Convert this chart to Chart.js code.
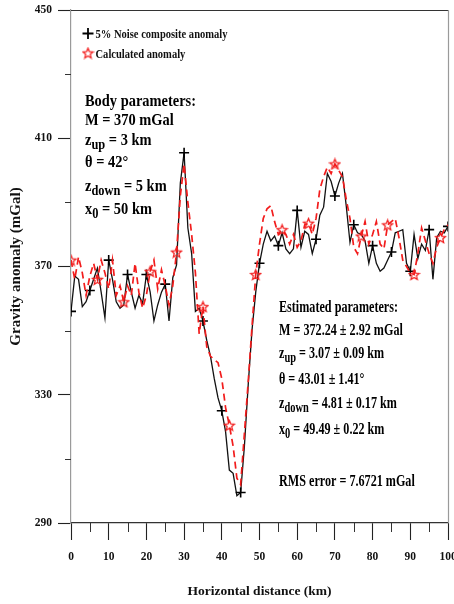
<!DOCTYPE html>
<html>
<head>
<meta charset="utf-8">
<title>Gravity anomaly profile</title>
<style>
  html, body { margin: 0; padding: 0; background: #fff; }
  #plot { display: block; }
</style>
<script src="https://cdn.jsdelivr.net/npm/chart.js@4.4.0/dist/chart.umd.min.js"></script>
</head>
<body>
<canvas id="plot" width="454" height="604"></canvas>
<script>
// Profile sampled every 1 km along the horizontal distance axis
const distanceKm = [0,1,2,3,4,5,6,7,8,9,10,11,12,13,14,15,16,17,18,19,20,21,22,23,24,25,26,27,28,29,30,31,32,33,34,35,36,37,38,39,40,41,42,43,44,45,46,47,48,49,50,51,52,53,54,55,56,57,58,59,60,61,62,63,64,65,66,67,68,69,70,71,72,73,74,75,76,77,78,79,80,81,82,83,84,85,86,87,88,89,90,91,92,93,94,95,96,97,98,99,100];

// 5% noise composite anomaly (mGal)
const noisyAnomaly = [356,367,366,357.5,359,362.5,366,369.5,362,354,372,366,359,357,358,367.5,362,357,361,358.5,367.5,362,353,358,362,364.5,353,366.5,370.5,396,405.5,382,374,356,357,353,347,342,335,329,325,318.5,306.5,305.5,298.5,299.5,314,333,350,362,371,377,381,378,379.5,376.5,380.5,375.5,374,375.5,387.5,376,381,380,374,378.5,386,388.5,399,396.5,392,396,399,389,377.5,383,380.5,380,378,371,376.5,371,368.5,369.5,372,374.5,380.5,381,381.5,371,368.5,380,372.5,377,375,381.5,366,379,381,380.5,382.5];

// Calculated anomaly from the estimated parameters (mGal)
const calculatedAnomaly = [372,366,373,368,361,367,371,366,372,368,363,372,361,364,359,364,361,371,362,357,361,368.5,372,363,369,364,358,364,374.5,392,402,390,380,368,349,357.5,345,342,341,340,335,326,320.5,314,304,302,318,334,351,367.5,377,385,388,389,384,380,381.5,380,377,380,376,378,383,383.5,380,385,394,398,401,399,402,400,398,391,385,376,374,379.5,384,377,380,384,377,375.5,383,384,385,379,372,370,368,367.5,374,382,378,374,371,376,379,381.5,383];

const xTickLabels = [0,10,20,30,40,50,60,70,80,90,100];
const xMinorTicks = [5,15,25,35,45,55,65,75,85,95];
const yTickLabels = [290,330,370,410,450];
const yMinorTicks = [310,350,390,430];

const legendLabels = ['5% Noise composite anomaly', 'Calculated anomaly'];

// Text blocks: each line is a list of [text, isSubscript]
const bodyLines = [
  [['Body parameters:', 0]],
  [['M = 370 mGal', 0]],
  [['z', 0], ['up', 1], [' = 3 km', 0]],
  [['\u03B8 = 42\u00B0', 0]],
  [['z', 0], ['down', 1], [' = 5 km', 0]],
  [['x', 0], ['0', 1], [' = 50 km', 0]]
];
const estimatedLines = [
  [['Estimated parameters:', 0]],
  [['M = 372.24 \u00B1 2.92 mGal', 0]],
  [['z', 0], ['up', 1], [' = 3.07 \u00B1 0.09 km', 0]],
  [['\u03B8 = 43.01 \u00B1 1.41\u00B0', 0]],
  [['z', 0], ['down', 1], [' = 4.81 \u00B1 0.17 km', 0]],
  [['x', 0], ['0', 1], [' = 49.49 \u00B1 0.22 km', 0]],
  [['RMS error = 7.6721 mGal', 0]]
];

const SERIF = '"Liberation Serif", "Times New Roman", Times, serif';
const RED = '#f21c1c';

function makeStar(size, color) {
  const c = document.createElement('canvas');
  c.width = size; c.height = size;
  const g = c.getContext('2d');
  const cx = size / 2, cy = size / 2 + 0.6;
  const R = size / 2 - 1.1, r = R * 0.45;
  g.beginPath();
  for (let i = 0; i < 10; i++) {
    const a = -Math.PI / 2 + i * Math.PI / 5;
    const rad = i % 2 ? r : R;
    g.lineTo(cx + rad * Math.cos(a), cy + rad * Math.sin(a));
  }
  g.closePath();
  g.strokeStyle = color;
  g.lineWidth = 1.3;
  g.stroke();
  return c;
}
const starMarker = makeStar(13, RED);

const toPoints = ys => ys.map((y, i) => ({ x: distanceKm[i], y }));

function drawRich(ctx, x, y, parts, size, sx) {
  ctx.save();
  ctx.translate(x, y);
  ctx.scale(sx, 1);
  let cx = 0;
  for (const [t, sub] of parts) {
    const fs = sub ? size * 0.86 : size;
    ctx.font = 'bold ' + fs + 'px ' + SERIF;
    ctx.fillText(t, cx, sub ? size * 0.24 : 0);
    cx += ctx.measureText(t).width;
  }
  ctx.restore();
}

function fitScale(ctx, text, size, target) {
  ctx.font = 'bold ' + size + 'px ' + SERIF;
  return target / ctx.measureText(text).width;
}

const decorations = {
  id: 'decorations',
  afterDraw(chart) {
    const ctx = chart.ctx;
    const a = chart.chartArea;
    const xs = chart.scales.x, ys = chart.scales.y;
    ctx.save();

    // frame: dark top edge, grey right edge
    ctx.lineWidth = 1.2;
    ctx.strokeStyle = '#333';
    ctx.beginPath();
    ctx.moveTo(a.left, a.top + 0.5);
    ctx.lineTo(a.right, a.top + 0.5);
    ctx.stroke();
    ctx.strokeStyle = '#9a9a9a';
    ctx.beginPath();
    ctx.moveTo(a.right + 0.5, a.top);
    ctx.lineTo(a.right + 0.5, a.bottom);
    ctx.stroke();

    // short minor ticks
    ctx.strokeStyle = '#333';
    ctx.lineWidth = 1;
    ctx.beginPath();
    for (const v of xMinorTicks) {
      const px = Math.round(xs.getPixelForValue(v)) + 0.5;
      ctx.moveTo(px, a.bottom);
      ctx.lineTo(px, a.bottom + 9);
    }
    for (const v of yMinorTicks) {
      const py = Math.round(ys.getPixelForValue(v)) + 0.5;
      ctx.moveTo(a.left - 6, py);
      ctx.lineTo(a.left, py);
    }
    ctx.stroke();

    // legend
    ctx.fillStyle = '#111';
    ctx.strokeStyle = '#000';
    ctx.lineWidth = 1.8;
    ctx.beginPath();
    ctx.moveTo(82.5, 33.5); ctx.lineTo(93.5, 33.5);
    ctx.moveTo(88, 28); ctx.lineTo(88, 39);
    ctx.stroke();
    ctx.drawImage(starMarker, 88 - 6.5, 53 - 6.5);
    const ls = fitScale(ctx, legendLabels[0], 12, 132);
    drawRich(ctx, 95.5, 37.5, [[legendLabels[0], 0]], 12, ls);
    drawRich(ctx, 95.5, 57.5, [[legendLabels[1], 0]], 12, ls);

    // body parameter block
    ctx.fillStyle = '#000';
    const bodyBase = [105.5, 125, 145, 167, 191, 214];
    const bs = fitScale(ctx, 'Body parameters:', 17, 111);
    bodyLines.forEach((ln, i) => drawRich(ctx, 85, bodyBase[i], ln, 17, bs));

    // estimated parameter block
    const estBase = [311.5, 335, 357.5, 384, 408, 434, 486];
    const es = fitScale(ctx, 'Estimated parameters:', 17.5, 119);
    estimatedLines.forEach((ln, i) => drawRich(ctx, 279, estBase[i], ln, 17.5, es));

    ctx.restore();
  }
};

new Chart(document.getElementById('plot'), {
  type: 'line',
  data: {
    datasets: [
      {
        label: legendLabels[1],
        data: toPoints(calculatedAnomaly),
        borderColor: RED,
        borderWidth: 1.7,
        borderDash: [7, 4.5],
        pointStyle: starMarker,
        pointRadius: c => (c.dataIndex % 7 === 0 ? 5 : 0),
        pointHoverRadius: 0,
        tension: 0,
        fill: false,
        order: 1
      },
      {
        label: legendLabels[0],
        data: toPoints(noisyAnomaly),
        borderColor: '#111',
        borderWidth: 1.3,
        pointStyle: 'cross',
        pointRadius: c => (c.dataIndex % 5 === 0 ? 5 : 0),
        pointHoverRadius: 0,
        pointBorderColor: '#000',
        pointBorderWidth: 1.6,
        tension: 0,
        fill: false,
        order: 2
      }
    ]
  },
  options: {
    responsive: false,
    animation: false,
    devicePixelRatio: 1,
    events: [],
    layout: { autoPadding: false, padding: { left: 0, top: 10, right: 6, bottom: 0 } },
    plugins: { legend: { display: false }, tooltip: { enabled: false } },
    scales: {
      x: {
        type: 'linear',
        position: 'bottom',
        min: 0,
        max: 100,
        ticks: {
          stepSize: 5,
          autoSkip: false,
          maxRotation: 0,
          padding: 10,
          color: '#111',
          font: { family: SERIF, size: 11.5, weight: 'bold' },
          callback: v => (xTickLabels.includes(v) ? String(v) : '')
        },
        grid: {
          display: true,
          drawOnChartArea: false,
          drawTicks: true,
          tickLength: 17,
          tickWidth: 1.1,
          tickColor: c => (c.tick && xTickLabels.includes(c.tick.value) ? '#222' : 'rgba(0,0,0,0)')
        },
        border: { display: true, color: '#333', width: 1.2 },
        title: {
          display: true,
          text: 'Horizontal distance (km)',
          color: '#111',
          font: { family: SERIF, size: 13.5, weight: 'bold' },
          padding: { top: 0, bottom: 4 }
        },
        afterFit: s => { s.height = 81; s.paddingLeft = 0; s.paddingRight = 0; }
      },
      y: {
        type: 'linear',
        position: 'left',
        min: 290,
        max: 450,
        ticks: {
          stepSize: 20,
          autoSkip: false,
          padding: 6,
          color: '#111',
          font: { family: SERIF, size: 11.5, weight: 'bold' },
          callback: v => (yTickLabels.includes(v) ? String(v) : '')
        },
        grid: {
          display: true,
          drawOnChartArea: false,
          drawTicks: true,
          tickLength: 13,
          tickWidth: 1.1,
          tickColor: c => (c.tick && yTickLabels.includes(c.tick.value) ? '#222' : 'rgba(0,0,0,0)')
        },
        border: { display: true, color: '#9a9a9a', width: 1.2 },
        title: {
          display: true,
          text: 'Gravity anomaly (mGal)',
          color: '#111',
          font: { family: SERIF, size: 15, weight: 'bold' },
          padding: { top: 7, bottom: 0 }
        },
        afterFit: s => { s.width = 71; s.paddingTop = 0; s.paddingBottom = 0; }
      }
    }
  },
  plugins: [decorations]
});
</script>
</body>
</html>
